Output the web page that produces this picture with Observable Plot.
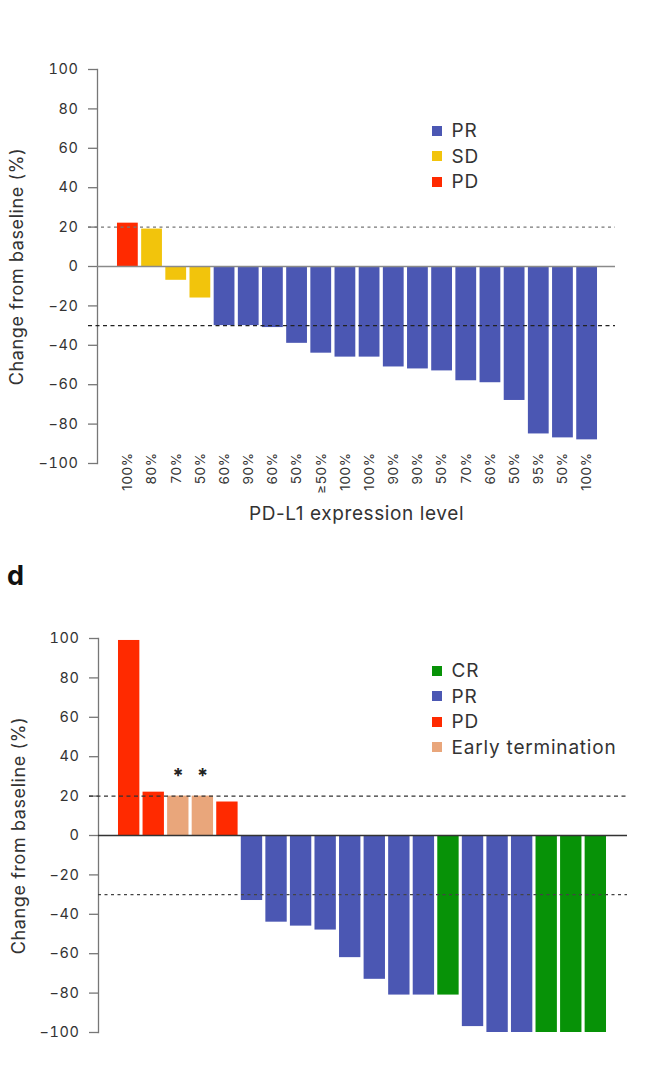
<!DOCTYPE html>
<html><head><meta charset="utf-8">
<script src="https://cdn.jsdelivr.net/npm/d3@7"></script>
<script src="https://cdn.jsdelivr.net/npm/@observablehq/plot@0.6"></script>
<style>
body{margin:0;background:#fff;font-family:Inter, sans-serif;}
#wrap{position:relative;width:656px;height:1068px;overflow:hidden;background:#fff}
.abs{position:absolute}
svg text{letter-spacing:0.6px}
.lg-swatch{height:25.5px;padding-bottom:0 !important;letter-spacing:0.8px}
.lg-swatches{margin:0 !important;}
#panel{font-weight:700;font-size:27px;line-height:27px;color:#111;left:7px;top:562px}
</style></head><body><div id="wrap"></div>
<script>
// ---------- Panel (top) ----------
const topLabels = ["100%","80%","70%","50%","60%","90%","60%","50%","≥50%","100%","100%","90%","90%","50%","70%","60%","50%","95%","50%","100%"];
const topValues = [22,19,-7,-16,-30,-30,-31,-39,-44,-46,-46,-51,-52,-53,-58,-59,-68,-85,-87,-88];
const topResponse = ["PD","SD","SD","SD","PR","PR","PR","PR","PR","PR","PR","PR","PR","PR","PR","PR","PR","PR","PR","PR"];
const topDomain = ["PR","SD","PD"];
const topColors = ["#4b57b3","#f2c40c","#ff2a00"];

// ---------- Panel d (bottom) ----------
const bottomValues = [99,22,20,20,17,-33,-44,-46,-48,-62,-73,-81,-81,-81,-97,-100,-100,-100,-100,-100];
const bottomResponse = ["PD","PD","Early termination","Early termination","PD","PR","PR","PR","PR","PR","PR","PR","PR","CR","PR","PR","PR","CR","CR","CR"];
const bottomStar = [0,0,1,1,0,0,0,0,0,0,0,0,0,0,0,0,0,0,0,0];
const bottomDomain = ["CR","PR","PD","Early termination"];
const bottomColors = ["#079207","#4b57b3","#ff2a00","#e9a67b"];

const yTicks = [-100,-80,-60,-40,-20,0,20,40,60,80,100];
const yLabel = "Change from baseline (%)";
const xLabelTop = "PD-L1 expression level";
const thresholds = [20,-30];

const FONT = "Inter, sans-serif";
const TXT = "#333";

const topData = topValues.map((v,i)=>({i, v, r: topResponse[i], label: topLabels[i]}));
const botData = bottomValues.map((v,i)=>({i, v, r: bottomResponse[i], star: bottomStar[i]}));

const wrap = document.getElementById("wrap");

const topPlot = Plot.plot({
  width: 656, height: 545,
  marginTop: 69, marginBottom: 82, marginLeft: 97, marginRight: 41,
  style: {fontFamily: FONT, color: TXT, background: "transparent", overflow: "visible"},
  x: {type: "band", domain: d3.range(topValues.length), padding: 0.14, round: false, insetLeft: 16.6, insetRight: 14.6, axis: null},
  y: {domain: [-100, 100]},
  color: {type: "ordinal", domain: topDomain, range: topColors},
  marks: [
    Plot.frame({anchor: "left", stroke: "#777", strokeWidth: 1.3}),
    Plot.axisY({ticks: yTicks, tickSize: 9, tickPadding: 10, fontSize: 14.5, label: null, stroke: "#777", strokeWidth: 1.3}),
    Plot.barY(topData, {x: "i", y: "v", fill: "r"}),
    Plot.ruleY([0], {stroke: "#8a8a8a", strokeWidth: 1.5}),
    Plot.ruleY([thresholds[0]], {stroke: "#777", strokeDasharray: "3,3.5", strokeWidth: 1.2, insetLeft: -9}),
    Plot.ruleY([thresholds[1]], {stroke: "#222", strokeDasharray: "4,3.5", strokeWidth: 1.2, insetLeft: -9}),
    Plot.text(topData, {x: "i", text: "label", frameAnchor: "bottom", rotate: -90, textAnchor: "end", lineAnchor: "middle", dy: -11, fontSize: 13.5, fill: TXT}),
    Plot.text([yLabel], {text: d => d, frameAnchor: "left", textAnchor: "middle", lineAnchor: "middle", rotate: -90, dx: -80, fontSize: 18, fill: TXT}),
    Plot.text([xLabelTop], {text: d => d, frameAnchor: "bottom", textAnchor: "middle", dy: 56, fontSize: 19, fill: TXT})
  ]
});
topPlot.classList.add("abs");
topPlot.style.left = "0px"; topPlot.style.top = "0px";
wrap.appendChild(topPlot);

const botPlot = Plot.plot({
  width: 656, height: 523,
  marginTop: 93, marginBottom: 36, marginLeft: 98, marginRight: 29,
  style: {fontFamily: FONT, color: TXT, background: "transparent", overflow: "visible"},
  x: {type: "band", domain: d3.range(bottomValues.length), padding: 0.13, round: false, insetLeft: 16.8, insetRight: 17.8, axis: null},
  y: {domain: [-100, 100]},
  color: {type: "ordinal", domain: bottomDomain, range: bottomColors},
  marks: [
    Plot.frame({anchor: "left", stroke: "#777", strokeWidth: 1.3}),
    Plot.axisY({ticks: yTicks, tickSize: 9, tickPadding: 10, fontSize: 14.5, label: null, stroke: "#777", strokeWidth: 1.3}),
    Plot.barY(botData, {x: "i", y: "v", fill: "r"}),
    Plot.ruleY([0], {stroke: "#333", strokeWidth: 1.5}),
    Plot.ruleY([thresholds[0]], {stroke: "#333", strokeDasharray: "4,3.5", strokeWidth: 1.2, insetLeft: -9}),
    Plot.ruleY([thresholds[1]], {stroke: "#444", strokeDasharray: "3,3.5", strokeWidth: 1.2}),
    Plot.text(botData, {filter: d => d.star, x: "i", y: "v", text: () => "*", fontSize: 20, fontWeight: 700, dy: -20, fill: "#222"}),
    Plot.text([yLabel], {text: d => d, frameAnchor: "left", textAnchor: "middle", lineAnchor: "middle", rotate: -90, dx: -79, fontSize: 18, fill: TXT})
  ]
});
botPlot.classList.add("abs");
botPlot.style.left = "0px"; botPlot.style.top = "545px";
wrap.appendChild(botPlot);

function addLegend(domain, range, left, top) {
  const lg = Plot.legend({
    color: {type: "ordinal", domain, range},
    columns: 1, swatchSize: 10, className: "lg",
    style: {fontSize: "19px", fontFamily: FONT, color: TXT}
  });
  lg.classList.add("abs");
  lg.style.left = left + "px"; lg.style.top = top + "px"; lg.style.width = "220px";
  wrap.appendChild(lg);
}
addLegend(topDomain, topColors, 432, 118);
addLegend(bottomDomain, bottomColors, 432, 658);

const panel = document.createElement("div");
panel.id = "panel"; panel.className = "abs"; panel.textContent = "d";
wrap.appendChild(panel);
</script></body></html>
